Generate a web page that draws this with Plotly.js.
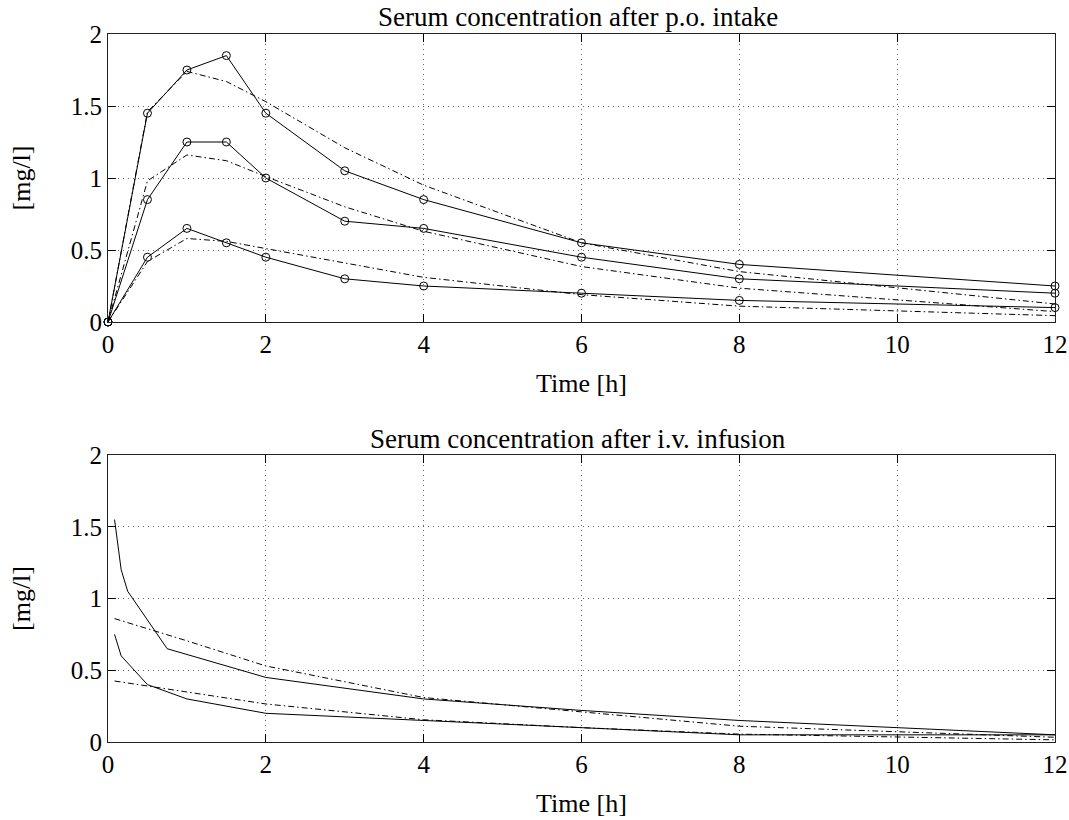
<!DOCTYPE html>
<html><head><meta charset="utf-8">
<script src="https://cdn.plot.ly/plotly-3.0.1.min.js"></script>
<style>html,body{margin:0;padding:0;background:#fff}#chart{width:1069px;height:820px}</style>
</head><body><div id="chart"></div>
<script>
// p.o. intake: measured (solid, circles) and fitted (dash-dot)
const tPO = [0, 0.5, 1, 1.5, 2, 3, 4, 6, 8, 12];
const poHigh = [0, 1.45, 1.75, 1.85, 1.45, 1.05, 0.85, 0.55, 0.4, 0.25];
const poMid  = [0, 0.85, 1.25, 1.25, 1.0, 0.7, 0.65, 0.45, 0.3, 0.2];
const poLow  = [0, 0.45, 0.65, 0.55, 0.45, 0.3, 0.25, 0.2, 0.15, 0.1];
const poFitHigh = [0, 1.46, 1.74, 1.67, 1.53, 1.21, 0.95, 0.55, 0.35, 0.125];
const poFitMid  = [0, 0.98, 1.16, 1.12, 1.01, 0.8, 0.63, 0.385, 0.235, 0.072];
const poFitLow  = [0, 0.42, 0.58, 0.56, 0.51, 0.41, 0.31, 0.19, 0.11, 0.044];

// i.v. infusion: measured (solid) and fitted (dash-dot)
const tIVHigh = [0.083, 0.167, 0.25, 0.75, 2, 4, 6, 8, 12];
const ivHigh  = [1.55, 1.2, 1.05, 0.65, 0.45, 0.3, 0.22, 0.15, 0.05];
const tIVLow  = [0.083, 0.167, 0.5, 1, 2, 4, 6, 8, 12];
const ivLow   = [0.75, 0.6, 0.4, 0.3, 0.2, 0.15, 0.1, 0.05, 0.05];
const tIVFit  = [0.083, 0.5, 1, 2, 4, 6, 8, 12];
const ivFitHigh = [0.86, 0.79, 0.705, 0.53, 0.31, 0.21, 0.11, 0.033];
const ivFitLow  = [0.425, 0.39, 0.348, 0.265, 0.155, 0.1, 0.055, 0.015];

const xTicks = [0, 2, 4, 6, 8, 10, 12];
const yTicks = [0, 0.5, 1, 1.5, 2];
const titleTop = 'Serum concentration after p.o. intake';
const titleBottom = 'Serum concentration after i.v. infusion';
const xLabel = 'Time [h]';
const yLabel = '[mg/l]';

const FONT = 'Liberation Serif, Times New Roman, serif';
const solid = {color: '#000', width: 1};
const dd = {color: '#000', width: 1, dash: '6px,3px,1.5px,3px'};
const mk = {symbol: 'circle-open', size: 8, color: '#000', line: {color: '#000', width: 1}};

const traces = [];
[poHigh, poMid, poLow].forEach(v => traces.push({x: tPO, y: v, xaxis: 'x', yaxis: 'y', mode: 'lines+markers', line: solid, marker: mk, cliponaxis: false}));
[poFitHigh, poFitMid, poFitLow].forEach(v => traces.push({x: tPO, y: v, xaxis: 'x', yaxis: 'y', mode: 'lines', line: dd}));
traces.push({x: tIVHigh, y: ivHigh, xaxis: 'x2', yaxis: 'y2', mode: 'lines', line: solid});
traces.push({x: tIVLow, y: ivLow, xaxis: 'x2', yaxis: 'y2', mode: 'lines', line: solid});
traces.push({x: tIVFit, y: ivFitHigh, xaxis: 'x2', yaxis: 'y2', mode: 'lines', line: dd});
traces.push({x: tIVFit, y: ivFitLow, xaxis: 'x2', yaxis: 'y2', mode: 'lines', line: dd});

function xa(anchor, dom) {
  return {domain: dom, anchor: anchor, range: [0, 12], tickvals: xTicks, ticktext: xTicks.map(String),
    ticks: 'inside', ticklen: 8, tickcolor: '#000', showline: true, linecolor: '#222', linewidth: 1,
    mirror: 'allticks', showgrid: true, gridcolor: '#666', griddash: '1px,4px', gridwidth: 1, zeroline: false,
    ticklabeloverflow: 'allow',
    tickfont: {family: FONT, size: 25, color: '#000'},
    title: {text: xLabel, font: {family: FONT, size: 26, color: '#000'}, standoff: 16}};
}
function ya(anchor, dom) {
  return {domain: dom, anchor: anchor, range: [0, 2], tickvals: yTicks, ticktext: yTicks.map(String),
    ticks: 'inside', ticklen: 8, tickcolor: '#000', showline: true, linecolor: '#222', linewidth: 1,
    mirror: 'allticks', showgrid: true, gridcolor: '#666', griddash: '1px,4px', gridwidth: 1, zeroline: false,
    ticklabeloverflow: 'allow',
    tickfont: {family: FONT, size: 25, color: '#000'},
    title: {text: yLabel, font: {family: FONT, size: 26, color: '#000'}, standoff: 32}};
}
const xd = [108/1069, 1055/1069];
const layout = {
  width: 1069, height: 820, margin: {l: 0, r: 0, t: 0, b: 0},
  paper_bgcolor: '#fff', plot_bgcolor: '#fff', showlegend: false,
  font: {family: FONT, color: '#000'},
  xaxis: xa('y', xd), yaxis: ya('x', [498/820, 786/820]),
  xaxis2: xa('y2', xd), yaxis2: ya('x2', [78/820, 365/820]),
  annotations: [
    {text: titleTop, xref: 'paper', yref: 'paper', x: 578/1069, y: 1 - 17/820, xanchor: 'center', yanchor: 'middle', showarrow: false, font: {family: FONT, size: 27, color: '#000'}},
    {text: titleBottom, xref: 'paper', yref: 'paper', x: 578/1069, y: 1 - 439/820, xanchor: 'center', yanchor: 'middle', showarrow: false, font: {family: FONT, size: 27, color: '#000'}}
  ]
};
Plotly.newPlot('chart', traces, layout, {displayModeBar: false, staticPlot: true});
</script></body></html>
